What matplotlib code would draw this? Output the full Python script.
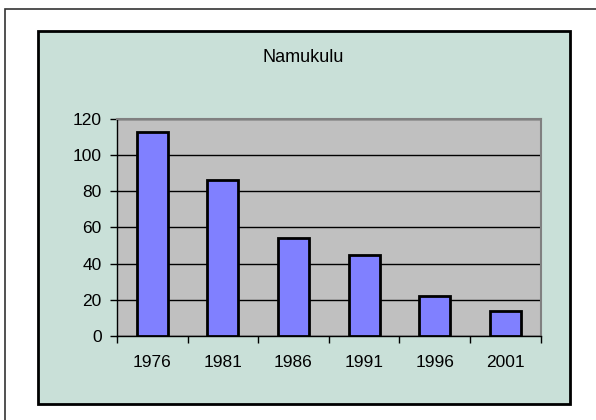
import numpy as np
import matplotlib.pyplot as plt
from matplotlib.patches import Rectangle

years = ['1976', '1981', '1986', '1991', '1996', '2001']
values = [113, 86, 54, 45, 22, 14]
title = 'Namukulu'
yticks = [0, 20, 40, 60, 80, 100, 120]

W, H = 596, 420
fig = plt.figure(figsize=(W / 100, H / 100), dpi=100)
fig.patch.set_facecolor('white')
plt.rcParams['font.family'] = ['Liberation Sans', 'DejaVu Sans']

# outer frame (only top/left fall inside the image)
fig.patches.append(Rectangle((5 / W, -0.1), 1.2, (H - 9) / H + 0.1,
                             transform=fig.transFigure, fill=False,
                             edgecolor='#333333', linewidth=1.2, zorder=-2))
# chart area
fig.patches.append(Rectangle((38 / W, (H - 404) / H), (570 - 38) / W, (404 - 31) / H,
                             transform=fig.transFigure, facecolor='#C9E0D8',
                             edgecolor='black', linewidth=2, zorder=-1))

ax = fig.add_axes([117 / W, (H - 336) / H, (540.5 - 117) / W, (336 - 119) / H])
ax.set_zorder(2)
ax.set_facecolor('#C0C0C0')

x = np.arange(len(years))
ax.bar(x, values, width=0.44, color='#8080FF', edgecolor='black', linewidth=2, zorder=3)

ax.set_xlim(-0.5, len(years) - 0.5)
ax.set_ylim(0, 120)
ax.set_yticks(yticks)
ax.set_yticklabels([str(v) for v in yticks], fontsize=12.5)
ax.yaxis.grid(True, color='black', linewidth=1, zorder=1)
ax.set_axisbelow(True)

ax.set_xticks(x)
ax.set_xticklabels(years, fontsize=12.5)
ax.tick_params(axis='x', length=0, pad=14)
ax.set_xticks(np.arange(-0.5, len(years)), minor=True)
ax.tick_params(axis='x', which='minor', length=5, width=1, direction='out')
ax.tick_params(axis='y', length=5, width=1, direction='out', pad=6)

for side in ['top', 'right']:
    ax.spines[side].set_color('#808080')
    ax.spines[side].set_linewidth(1.5)
for side in ['left', 'bottom']:
    ax.spines[side].set_color('black')
    ax.spines[side].set_linewidth(1)

fig.text(303 / W, 1 - 57 / H, title, ha='center', va='center', fontsize=13)

plt.savefig('out.png', dpi=100)
plt.close()
